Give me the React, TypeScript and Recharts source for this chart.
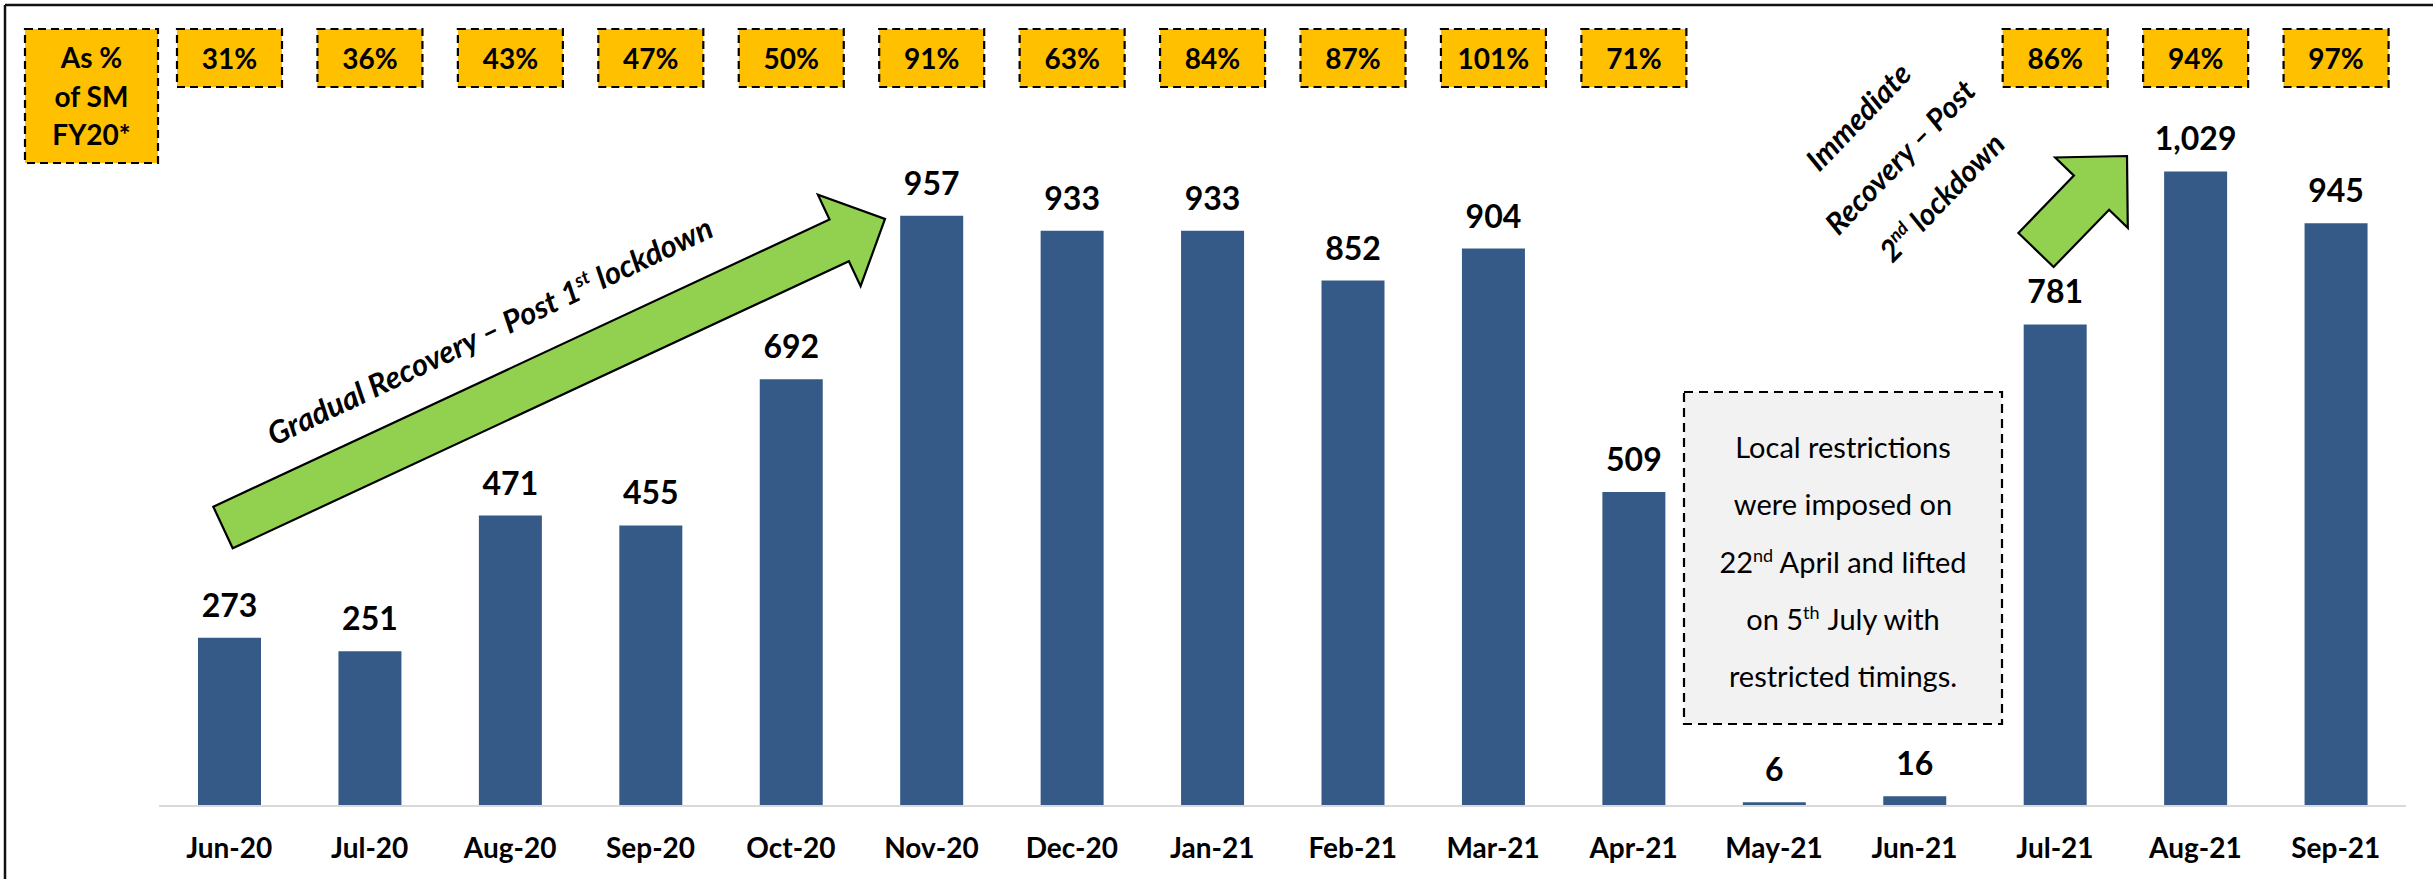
import React from "react";
import { BarChart, Bar, XAxis, YAxis, LabelList } from "recharts";

const months = ["Jun-20","Jul-20","Aug-20","Sep-20","Oct-20","Nov-20","Dec-20","Jan-21","Feb-21","Mar-21","Apr-21","May-21","Jun-21","Jul-21","Aug-21","Sep-21"];
const values = [273, 251, 471, 455, 692, 957, 933, 933, 852, 904, 509, 6, 16, 781, 1029, 945];
const pctOfFY20: (number | null)[] = [31, 36, 43, 47, 50, 91, 63, 84, 87, 101, 71, null, null, 86, 94, 97];

const data = months.map((m, i) => ({ month: m, value: values[i], pct: pctOfFY20[i] }));

const FONT = "Lato, 'Open Sans', sans-serif";
const BAR = "#355a88";
const W = 2433;
const H = 879;

function arrowPoints(tail: [number, number], tip: [number, number], shaftHalf: number, headHalf: number, headLen: number) {
  const dx = tip[0] - tail[0];
  const dy = tip[1] - tail[1];
  const len = Math.hypot(dx, dy);
  const u = [dx / len, dy / len];
  const n = [-u[1], u[0]];
  const b = [tip[0] - headLen * u[0], tip[1] - headLen * u[1]];
  const pts = [
    [tail[0] - shaftHalf * n[0], tail[1] - shaftHalf * n[1]],
    [b[0] - shaftHalf * n[0], b[1] - shaftHalf * n[1]],
    [b[0] - headHalf * n[0], b[1] - headHalf * n[1]],
    [tip[0], tip[1]],
    [b[0] + headHalf * n[0], b[1] + headHalf * n[1]],
    [b[0] + shaftHalf * n[0], b[1] + shaftHalf * n[1]],
    [tail[0] + shaftHalf * n[0], tail[1] + shaftHalf * n[1]],
  ];
  return pts.map((p) => `${p[0].toFixed(1)},${p[1].toFixed(1)}`).join(" ");
}

const ValueLabel = (props: any) => {
  const { x, y, width, value } = props;
  if (value == null) return null;
  return (
    <text x={x + width / 2} y={y - 21} textAnchor="middle" fontFamily={FONT} fontWeight={700} fontSize={32} fill="#000">
      {Number(value).toLocaleString("en-US")}
    </text>
  );
};

const PctBox = (props: any) => {
  const { x, width, value } = props;
  if (value == null) return null;
  const cx = x + width / 2;
  return (
    <g>
      <rect x={cx - 52.5} y={29} width={105} height={58} fill="#FFC000" stroke="#000" strokeWidth={2.2} strokeDasharray="8 5" />
      <text x={cx} y={69} textAnchor="middle" fontFamily={FONT} fontWeight={700} fontSize={28} fill="#000">
        {value}%
      </text>
    </g>
  );
};

const MonthTick = (props: any) => {
  const { x, y, payload } = props;
  return (
    <text x={x} y={y + 52} textAnchor="middle" fontFamily={FONT} fontWeight={700} fontSize={28} fill="#000">
      {payload.value}
    </text>
  );
};

export default function App() {
  return (
    <div style={{ position: "absolute", left: 0, top: 0, width: W, height: H, background: "#fff", overflow: "hidden" }}>
      <BarChart width={W} height={H} data={data} margin={{ top: 66, right: 27, bottom: 0, left: 159 }}>
        <XAxis
          dataKey="month"
          height={73}
          tickLine={false}
          tickSize={0}
          tickMargin={0}
          axisLine={{ stroke: "#d9d9d9", strokeWidth: 2 }}
          tick={<MonthTick />}
          interval={0}
        />
        <YAxis hide domain={[0, 1200]} />
        <Bar dataKey="value" fill={BAR} barSize={63} isAnimationActive={false}>
          <LabelList dataKey="value" content={<ValueLabel />} />
          <LabelList dataKey="pct" content={<PctBox />} />
        </Bar>
      </BarChart>
      <svg width={W} height={H} style={{ position: "absolute", left: 0, top: 0, pointerEvents: "none" }}>
        {/* frame */}
        <line x1={5} y1={5} x2={W} y2={5} stroke="#111" strokeWidth={2.5} />
        <line x1={5} y1={5} x2={5} y2={H} stroke="#111" strokeWidth={2.5} />

        {/* legend box */}
        <rect x={25} y={29} width={133} height={134} fill="#FFC000" stroke="#000" strokeWidth={2.2} strokeDasharray="8 5" />
        <text textAnchor="middle" fontFamily={FONT} fontWeight={700} fontSize={28} fill="#000">
          <tspan x={91.5} y={68}>As %</tspan>
          <tspan x={91.5} y={107}>of SM</tspan>
          <tspan x={91.5} y={145}>FY20*</tspan>
        </text>

        {/* arrow 1 */}
        <polygon points={arrowPoints([223, 527.5], [885, 219], 23, 50.5, 50.5)} fill="#92D050" stroke="#000" strokeWidth={2.2} strokeLinejoin="miter" />
        <text
          transform="translate(490,331) rotate(-25.5)"
          textAnchor="middle"
          fontFamily={FONT}
          fontWeight={700}
          fontStyle="italic"
          fontSize={31}
          fill="#000"
        >
          <tspan x={0} y={11}>Gradual Recovery – Post 1</tspan>
          <tspan dy={-12} fontSize={19}>st</tspan>
          <tspan dy={12}> lockdown</tspan>
        </text>

        {/* arrow 2 */}
        <polygon points={arrowPoints([2036, 250], [2127, 156], 24.5, 50.5, 51)} fill="#92D050" stroke="#000" strokeWidth={2.2} strokeLinejoin="miter" />
        <text
          transform="translate(1900,157) rotate(-46)"
          textAnchor="middle"
          fontFamily={FONT}
          fontWeight={700}
          fontStyle="italic"
          fontSize={30}
          fill="#000"
        >
          <tspan x={0} y={-47}>Immediate</tspan>
          <tspan x={0} y={11}>Recovery – Post</tspan>
          <tspan x={0} y={69}>2</tspan>
          <tspan dy={-12} fontSize={18}>nd</tspan>
          <tspan dy={12}> lockdown</tspan>
        </text>

        {/* restriction note */}
        <rect x={1684} y={392} width={318} height={332} fill="#f2f2f2" stroke="#000" strokeWidth={2.2} strokeDasharray="9 6" />
        <text textAnchor="middle" fontFamily={FONT} fontSize={29} fill="#000">
          <tspan x={1843} y={458}>Local restrictions</tspan>
          <tspan x={1843} y={515}>were imposed on</tspan>
        </text>
        <text x={1843} y={573} textAnchor="middle" fontFamily={FONT} fontSize={29} fill="#000">
          22<tspan dy={-11} fontSize={18}>nd</tspan><tspan dy={11}> April and lifted</tspan>
        </text>
        <text x={1843} y={630} textAnchor="middle" fontFamily={FONT} fontSize={29} fill="#000">
          on 5<tspan dy={-11} fontSize={18}>th</tspan><tspan dy={11} dx={8}>July with</tspan>
        </text>
        <text x={1843} y={687} textAnchor="middle" fontFamily={FONT} fontSize={29} fill="#000">
          restricted timings.
        </text>
      </svg>
    </div>
  );
}
